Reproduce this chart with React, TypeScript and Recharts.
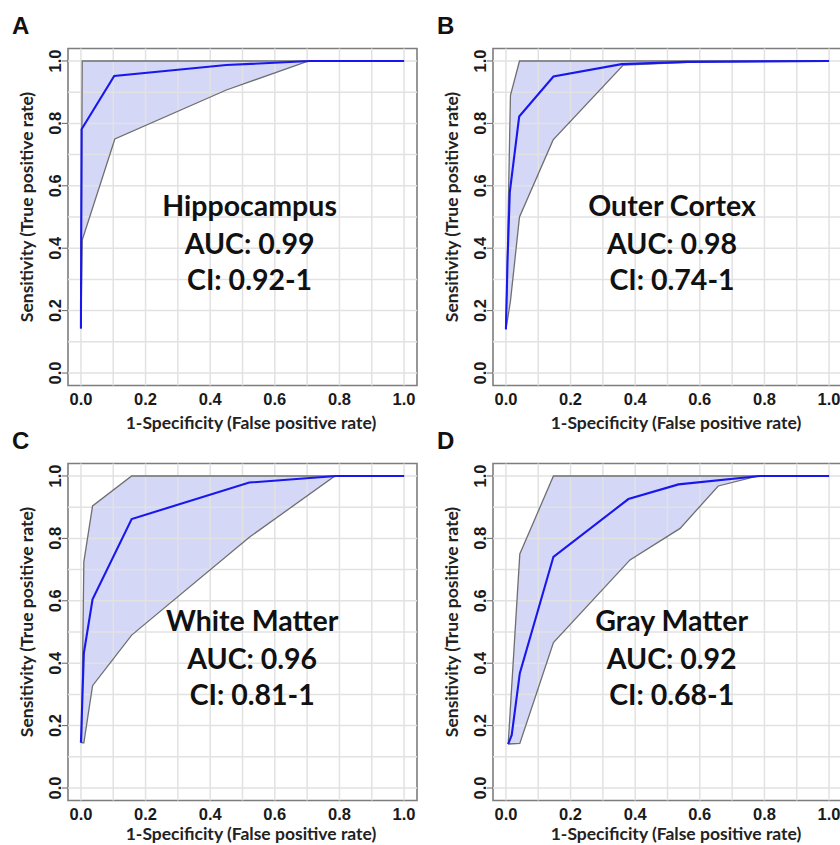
import React from 'react';
import {
  ComposedChart,
  XAxis,
  YAxis,
  Area,
  Line,
  ReferenceLine,
  ReferenceArea,
  ReferenceDot,
} from 'recharts';

// ---------- shared axis values ----------
const gridValues = [0, 0.1, 0.2, 0.3, 0.4, 0.5, 0.6, 0.7, 0.8, 0.9, 1.0];
const axisTicks = [0, 0.2, 0.4, 0.6, 0.8, 1.0];
const tickLabels = ['0.0', '0.2', '0.4', '0.6', '0.8', '1.0'];
const axisDomain: [number, number] = [-0.04, 1.04];

const xTitle = '1-Specificity (False positive rate)';
const yTitle = 'Sensitivity (True positive rate)';

// ---------- A: Hippocampus ----------
const hippoRocX = [0, 0.002, 0.103, 0.3, 0.45, 0.71, 1.0];
const hippoRocY = [0.143, 0.781, 0.952, 0.972, 0.987, 1.0, 1.0];
const hippoBandX = [0, 0.004, 0.105, 0.45, 0.705, 1.0];
const hippoBandLo = [0.143, 0.426, 0.75, 0.907, 1.0, 1.0];
const hippoBandHi = [0.143, 1.0, 1.0, 1.0, 1.0, 1.0];

// ---------- B: Outer Cortex ----------
const cortexRocX = [0, 0.005, 0.012, 0.041, 0.147, 0.358, 0.56, 1.0];
const cortexRocY = [0.14, 0.36, 0.58, 0.822, 0.95, 0.99, 0.997, 1.0];
const cortexBandX = [0, 0.014, 0.042, 0.146, 0.363, 0.6, 1.0];
const cortexBandLo = [0.14, 0.23, 0.5, 0.747, 0.987, 0.997, 1.0];
const cortexBandHi = [0.14, 0.89, 1.0, 1.0, 1.0, 1.0, 1.0];

// ---------- C: White Matter ----------
const whiteRocX = [0, 0.009, 0.036, 0.157, 0.521, 0.79, 1.0];
const whiteRocY = [0.145, 0.432, 0.605, 0.862, 0.979, 1.0, 1.0];
const whiteBandX = [0.002, 0.009, 0.036, 0.157, 0.523, 0.786, 1.0];
const whiteBandLo = [0.145, 0.145, 0.328, 0.49, 0.805, 1.0, 1.0];
const whiteBandHi = [0.145, 0.725, 0.904, 1.0, 1.0, 1.0, 1.0];

// ---------- D: Gray Matter ----------
const grayRocX = [0.007, 0.018, 0.043, 0.147, 0.379, 0.534, 0.786, 1.0];
const grayRocY = [0.141, 0.17, 0.368, 0.741, 0.926, 0.973, 1.0, 1.0];
const grayBandX = [0.007, 0.043, 0.147, 0.384, 0.539, 0.657, 0.781, 1.0];
const grayBandLo = [0.141, 0.143, 0.466, 0.731, 0.832, 0.968, 1.0, 1.0];
const grayBandHi = [0.141, 0.75, 1.0, 1.0, 1.0, 1.0, 1.0, 1.0];

// ---------- panel annotations ----------
const panelLetters = ['A', 'B', 'C', 'D'];
const panelTitles = ['Hippocampus', 'Outer Cortex', 'White Matter', 'Gray Matter'];
const panelAuc = ['AUC: 0.99', 'AUC: 0.98', 'AUC: 0.96', 'AUC: 0.92'];
const panelCi = ['CI: 0.92-1', 'CI: 0.74-1', 'CI: 0.81-1', 'CI: 0.68-1'];
const textX = [0.522, 0.514, 0.53, 0.513];
const textY = [0.535, 0.415, 0.297];

const TICK_FONT = '"Liberation Sans", Arial, sans-serif';
const TEXT_FONT = 'Lato, "Open Sans", sans-serif';

const labelFor = (v: number) => tickLabels[axisTicks.findIndex((t) => Math.abs(t - v) < 1e-6)] ?? String(v);

const XTick = (props: any) => {
  const { x, y, payload } = props;
  return (
    <text
      x={x}
      y={y + 11}
      textAnchor="middle"
      fontFamily={TICK_FONT}
      fontWeight={700}
      fontSize={16.5}
      fill="#1a1a1a"
    >
      {labelFor(payload.value)}
    </text>
  );
};

const YTick = (props: any) => {
  const { x, y, payload } = props;
  const bx = x + 1;
  return (
    <text
      x={bx}
      y={y}
      transform={`rotate(-90, ${bx}, ${y})`}
      textAnchor="middle"
      fontFamily={TICK_FONT}
      fontWeight={700}
      fontSize={16.5}
      fill="#1a1a1a"
    >
      {labelFor(payload.value)}
    </text>
  );
};

type PanelProps = {
  index: number;
  left: number;
  top: number;
  xTitleTop: number;
  rocX: number[];
  rocY: number[];
  bandX: number[];
  bandLo: number[];
  bandHi: number[];
};

const Panel = ({ index, left, top, xTitleTop, rocX, rocY, bandX, bandLo, bandHi }: PanelProps) => {
  const band = bandX.map((x, i) => ({ x, range: [bandLo[i], bandHi[i]], lo: bandLo[i], hi: bandHi[i] }));
  const roc = rocX.map((x, i) => ({ x, y: rocY[i] }));
  const annot = [panelTitles[index], panelAuc[index], panelCi[index]];
  return (
    <div style={{ position: 'absolute', left, top, width: 420, height: 440 }}>
      <div
        style={{
          position: 'absolute',
          left: 12,
          top: 14,
          fontFamily: TICK_FONT,
          fontWeight: 700,
          fontSize: 24,
          lineHeight: '24px',
          color: '#111',
        }}
      >
        {panelLetters[index]}
      </div>
      <div
        style={{
          position: 'absolute',
          left: 27 - 150,
          top: 207 - 10,
          width: 300,
          height: 20,
          lineHeight: '20px',
          textAlign: 'center',
          transform: 'rotate(-90deg)',
          fontFamily: TEXT_FONT,
          fontWeight: 700,
          fontSize: 17.5,
          color: '#222',
          whiteSpace: 'nowrap',
        }}
      >
        {yTitle}
      </div>
      <div
        style={{
          position: 'absolute',
          left: 251 - 150,
          top: xTitleTop,
          width: 300,
          height: 20,
          lineHeight: '20px',
          textAlign: 'center',
          fontFamily: TEXT_FONT,
          fontWeight: 700,
          fontSize: 17.5,
          color: '#222',
          whiteSpace: 'nowrap',
        }}
      >
        {xTitle}
      </div>
      <div style={{ position: 'absolute', left: 0, top: 0 }}>
        <ComposedChart
          width={420}
          height={420}
          data={band}
          margin={{ top: 48.5, right: 3, left: 0, bottom: 0 }}
        >
          <XAxis
            type="number"
            dataKey="x"
            domain={axisDomain}
            ticks={axisTicks}
            allowDataOverflow
            interval={0}
            axisLine={false}
            tickLine={false}
            tickSize={6}
            tickMargin={2}
            height={34.5}
            tick={<XTick />}
          />
          <YAxis
            type="number"
            domain={axisDomain}
            ticks={axisTicks}
            allowDataOverflow
            interval={0}
            axisLine={false}
            tickLine={{ stroke: '#666', strokeWidth: 1 }}
            tickSize={6}
            tickMargin={2}
            width={68}
            tick={<YTick />}
          />
          {gridValues.map((v) => (
            <ReferenceLine key={'gx' + v} x={v} stroke="#e2e2e2" strokeWidth={1.5} />
          ))}
          {gridValues.map((v) => (
            <ReferenceLine key={'gy' + v} y={v} stroke="#e2e2e2" strokeWidth={1.5} />
          ))}
          <Area
            type="linear"
            dataKey="range"
            stroke="none"
            fill="#d5d7f6"
            fillOpacity={1}
            isAnimationActive={false}
            dot={false}
            activeDot={false}
          />
          <Line
            type="linear"
            dataKey="hi"
            stroke="#6f6f6f"
            strokeWidth={1.3}
            dot={false}
            activeDot={false}
            isAnimationActive={false}
          />
          <Line
            type="linear"
            dataKey="lo"
            stroke="#6f6f6f"
            strokeWidth={1.3}
            dot={false}
            activeDot={false}
            isAnimationActive={false}
          />
          <Line
            type="linear"
            data={roc}
            dataKey="y"
            stroke="#1818ee"
            strokeWidth={2.1}
            dot={false}
            activeDot={false}
            isAnimationActive={false}
          />
          <ReferenceArea
            x1={axisDomain[0]}
            x2={axisDomain[1]}
            y1={axisDomain[0]}
            y2={axisDomain[1]}
            fill="none"
            fillOpacity={0}
            stroke="#7d7d7d"
            strokeWidth={1.6}
            ifOverflow="visible"
          />
          {annot.map((t, i) => (
            <ReferenceDot
              key={'t' + i}
              x={textX[index]}
              y={textY[i]}
              r={0}
              fill="none"
              stroke="none"
              ifOverflow="visible"
              label={{
                value: t,
                position: 'center',
                fontSize: 28.5,
                fontWeight: 700,
                fontFamily: TEXT_FONT,
                fill: '#111',
              }}
            />
          ))}
        </ComposedChart>
      </div>
    </div>
  );
}

export default function App() {
  return (
    <div
      style={{
        position: 'absolute',
        left: 0,
        top: 0,
        width: 840,
        height: 845,
        overflow: 'hidden',
        background: '#fff',
      }}
    >
      <Panel index={0} left={0} top={0} xTitleTop={413} rocX={hippoRocX} rocY={hippoRocY} bandX={hippoBandX} bandLo={hippoBandLo} bandHi={hippoBandHi} />
      <Panel index={1} left={425} top={0} xTitleTop={413} rocX={cortexRocX} rocY={cortexRocY} bandX={cortexBandX} bandLo={cortexBandLo} bandHi={cortexBandHi} />
      <Panel index={2} left={0} top={414.5} xTitleTop={409} rocX={whiteRocX} rocY={whiteRocY} bandX={whiteBandX} bandLo={whiteBandLo} bandHi={whiteBandHi} />
      <Panel index={3} left={425} top={414.5} xTitleTop={409} rocX={grayRocX} rocY={grayRocY} bandX={grayBandX} bandLo={grayBandLo} bandHi={grayBandHi} />
    </div>
  );
}
